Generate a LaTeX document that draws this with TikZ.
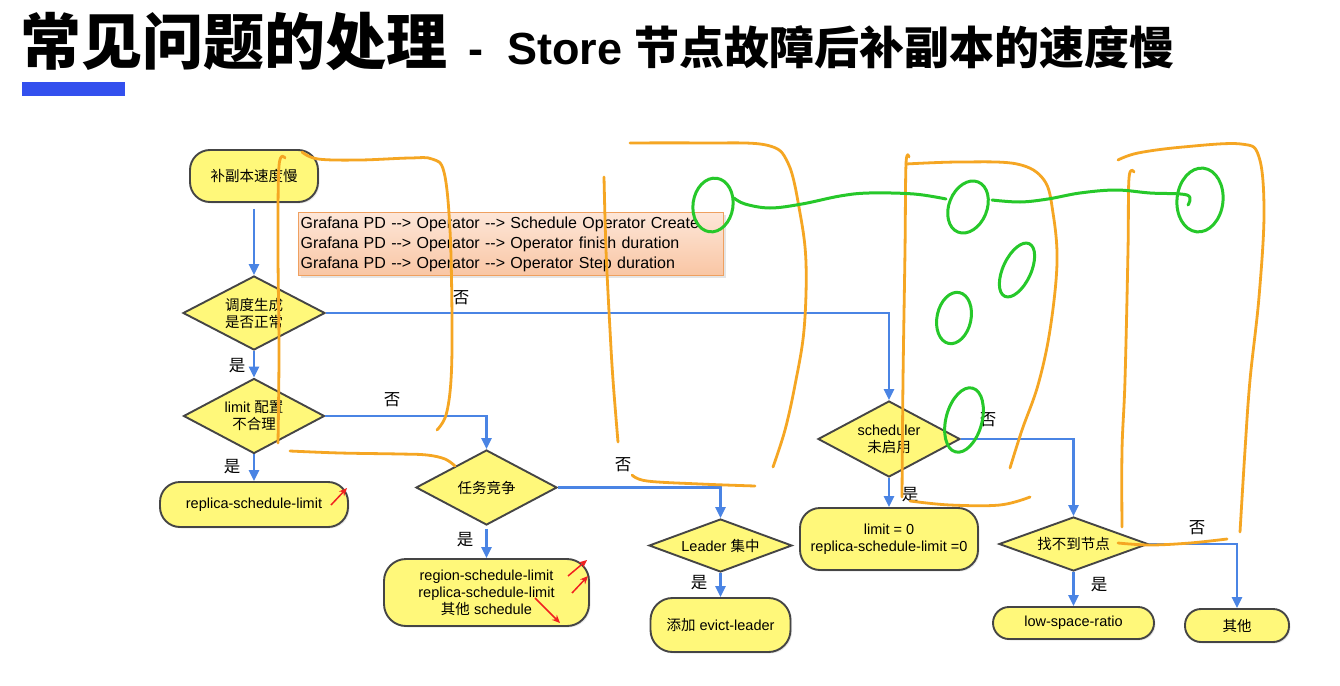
\documentclass[tikz,border=0pt]{standalone}
\usepackage{fontspec}
\setmainfont{Liberation Sans}[Ligatures=TeXOff]
\newfontfamily\cjk{Noto Sans CJK SC}
\usetikzlibrary{shapes.geometric,arrows.meta,shadows}
\definecolor{nodefill}{HTML}{FFF87A}
\definecolor{nodeedge}{HTML}{454545}
\definecolor{flowblue}{HTML}{4A84E4}
\definecolor{penorange}{HTML}{F5A623}
\definecolor{pengreen}{HTML}{26C82A}
\definecolor{barblue}{HTML}{3350EE}
\definecolor{noteedge}{HTML}{EFA060}
\definecolor{notetop}{HTML}{FDE6D8}
\definecolor{notebot}{HTML}{F9C6A4}
\definecolor{penred}{HTML}{F02020}
\begin{document}
\begin{tikzpicture}[x=1pt,y=-1pt,
  every node/.style={font=\fontsize{14.5}{17}\selectfont},
  roundbox/.style={draw=nodeedge, line width=1.9pt, fill=nodefill, align=center, inner sep=0pt,
    drop shadow={shadow xshift=1.5pt, shadow yshift=-1.5pt, opacity=0.18}},
  decision/.style={diamond, draw=nodeedge, line width=1.9pt, fill=nodefill, align=center,
    inner sep=0pt, shape aspect=2},
  conn/.style={draw=flowblue, line width=2.4pt, -{Triangle[length=11pt,width=10pt]}},
  yn/.style={font=\cjk\fontsize{16.5}{16.5}\selectfont, inner sep=0pt},
  notebox/.style={draw=noteedge, line width=1.2pt, top color=notetop, bottom color=notebot,
    align=left, text width=421pt, inner xsep=2pt, inner ysep=3pt, minimum height=63pt,
    font=\fontsize{16}{20}\selectfont,
    drop shadow={shadow xshift=2pt, shadow yshift=-2pt, opacity=0.2}},
  orangepen/.style={draw=penorange, line width=2.8pt, line cap=round, line join=round},
  greenpen/.style={draw=pengreen, line width=3pt, line cap=round, line join=round},
  redpen/.style={draw=penred, line width=1.5pt, -{Stealth[length=8pt,width=7pt]}}
]
\useasboundingbox (0,0) rectangle (1340,685);
\fill[white] (0,0) rectangle (1340,685);

% title
\node[anchor=base west, inner sep=0pt, font=\cjk\bfseries\fontsize{61}{61}\selectfont] (t1) at (20,64) {常见问题的处理};
\node[anchor=base west, inner sep=0pt, font=\bfseries\fontsize{45}{45}\selectfont] (t2) at (468,64)
  {-\hspace{24pt}Store\hspace{12pt}{\cjk 节点故障后补副本的速度慢}};
\fill[barblue] (22,82) rectangle (125,96);

% flow nodes
\node[roundbox, minimum width=128pt, minimum height=52pt, rounded corners=20pt] (n1) at (254,176) {\cjk 补副本速度慢};
\node[decision, minimum width=142pt, minimum height=74pt] (d1) at (254,313) {{\cjk 调度生成}\\{\cjk 是否正常}};
\node[decision, minimum width=141pt, minimum height=75pt] (d2) at (254,416) {limit {\cjk 配置}\\{\cjk 不合理}};
\node[roundbox, minimum width=188pt, minimum height=45pt, rounded corners=20pt] (r1) at (254,504.5) {replica-schedule-limit};
\node[decision, minimum width=141pt, minimum height=75pt] (d3) at (486.5,487.5) {\cjk 任务竞争};
\node[roundbox, minimum width=205pt, minimum height=67pt, rounded corners=22pt] (r2) at (486.5,592.5)
  {region-schedule-limit\\replica-schedule-limit\\{\cjk 其他} schedule};
\node[decision, minimum width=143pt, minimum height=53pt] (d4) at (720.5,545.5) {Leader {\cjk 集中}};
\node[roundbox, minimum width=140pt, minimum height=54pt, rounded corners=22pt] (r3) at (720.5,625) {{\cjk 添加} evict-leader};
\node[decision, minimum width=142pt, minimum height=76pt] (d5) at (889,439) {scheduler\\{\cjk 未启用}};
\node[roundbox, minimum width=178pt, minimum height=62pt, rounded corners=20pt] (r4) at (889,539) {limit = 0\\replica-schedule-limit =0};
\node[decision, minimum width=149pt, minimum height=54pt] (d6) at (1073.5,544) {\cjk 找不到节点};
\node[roundbox, minimum width=161pt, minimum height=32pt, rounded corners=16pt] (r5) at (1073.5,623) {low-space-ratio};
\node[roundbox, minimum width=104pt, minimum height=33pt, rounded corners=16pt] (r6) at (1237,625.5) {\cjk 其他};

% note box
\node[notebox, anchor=north west] (note) at (298,212)
  {Grafana PD --> Operator --> Schedule Operator Create\\
   Grafana PD --> Operator --> Operator finish duration\\
   Grafana PD --> Operator --> Operator Step duration};

% connectors
\draw[conn, shorten <=6pt] (n1.south) -- (d1.north);
\draw[conn] (d1.south) -- (d2.north);
\draw[conn] (d2.south) -- (r1.north);
\draw[conn] (d2.east) -| (d3.north);
\draw[conn, shorten <=3pt] (d3.south) -- (r2.north);
\draw[conn] (d3.east) -| (d4.north);
\draw[conn] (d4.south) -- (r3.north);
\draw[conn] (d1.east) -| (d5.north);
\draw[conn] (d5.south) -- (r4.north);
\draw[conn] (d5.east) -| (d6.north);
\draw[conn] (d6.south) -- (r5.north);
\draw[conn] (d6.east) -| (r6.north);

% yes / no labels
\node[yn] (l1) at (461,298) {否};
\node[yn] (l2) at (237,366) {是};
\node[yn] (l3) at (392,400) {否};
\node[yn] (l4) at (232,467) {是};
\node[yn] (l5) at (465,540) {是};
\node[yn] (l6) at (623,465) {否};
\node[yn] (l7) at (699,583) {是};
\node[yn] (l8) at (910,495) {是};
\node[yn] (l9) at (988,420) {否};
\node[yn] (l10) at (1099,585) {是};
\node[yn] (l11) at (1197,528) {否};

% orange hand-drawn brackets
\draw[orangepen] plot[smooth, tension=0.6] coordinates {(302,152) (318,159) (360,160) (410,158) (432,159) (444,172) (450,230) (452,320) (451,380) (446,415) (437,430)};
\draw[orangepen] plot[smooth, tension=0.6] coordinates {(285,158) (279,166) (278,250) (279,350) (278,443)};
\draw[orangepen] plot[smooth, tension=0.6] coordinates {(290,451) (340,453) (400,454) (427,455) (445,459) (455,466)};

\draw[orangepen] plot[smooth, tension=0.6] coordinates {(630,143) (700,143) (766,145) (788,163) (800,213) (806,263) (804,330) (795,385) (785,430) (773,467)};
\draw[orangepen] plot[smooth, tension=0.6] coordinates {(604,177) (606,250) (610,330) (613,380) (618,442)};
\draw[orangepen] plot[smooth, tension=0.6] coordinates {(632,475) (647,481) (700,484) (755,486)};

\draw[orangepen] plot[smooth, tension=0.6] coordinates {(909,157) (906,164) (905,250) (903,380) (902,497)};
\draw[orangepen] plot[smooth, tension=0.6] coordinates {(906,164) (960,162) (1017,164) (1044,180) (1053,213) (1057,263) (1050,330) (1038,385) (1022,430) (1010,468)};
\draw[orangepen] plot[smooth, tension=0.6] coordinates {(910,501) (950,505) (1000,505) (1030,497)};

\draw[orangepen] plot[smooth, tension=0.6] coordinates {(1118,160) (1138,153) (1183,147) (1241,144) (1259,157) (1264,213) (1259,297) (1250,380) (1245,450) (1240,532)};
\draw[orangepen] plot[smooth, tension=0.6] coordinates {(1134,172) (1129,178) (1128,250) (1125,380) (1122,450) (1122,527)};
\draw[orangepen] plot[smooth, tension=0.6] coordinates {(1118,543) (1150,545) (1190,543) (1227,539)};

% green hand-drawn circles
\draw[greenpen, rotate around={-8:(713,205)}] (713,205) ellipse [x radius=20, y radius=27];
\draw[greenpen] plot[smooth, tension=0.6] coordinates {(734,198) (745,204) (770,208) (802,204) (840,196) (869,193) (914,194) (946,199)};
\draw[greenpen, rotate around={-22:(968,207)}] (968,207) ellipse [x radius=19, y radius=27];
\draw[greenpen] plot[smooth, tension=0.6] coordinates {(992,200) (1020,202) (1048,199) (1080,193) (1116,190) (1150,193) (1187,195) (1188,205)};
\draw[greenpen, rotate around={-6:(1200,200)}] (1200,200) ellipse [x radius=23, y radius=32];
\draw[greenpen, rotate around={-25:(1017,270)}] (1017,270) ellipse [x radius=14, y radius=29];
\draw[greenpen, rotate around={-12:(954,318)}] (954,318) ellipse [x radius=17, y radius=26];
\draw[greenpen, rotate around={-15:(964,420)}] (964,420) ellipse [x radius=18, y radius=33];

% red hand-drawn arrows
\draw[redpen] (331,505) -- (347,488);
\draw[redpen] (568,576) -- (587,560);
\draw[redpen] (572,593) -- (588,576);
\draw[redpen] (535,598) -- (560,623);
\end{tikzpicture}
\end{document}
